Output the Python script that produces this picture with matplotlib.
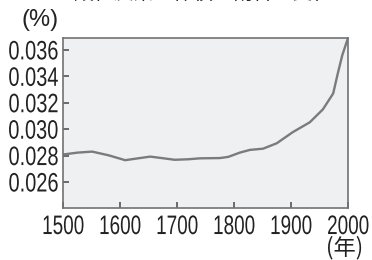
import matplotlib
matplotlib.use("Agg")
import matplotlib.pyplot as plt
from matplotlib.patheffects import AbstractPathEffect
from matplotlib.transforms import Affine2D

# CO2 share of the atmosphere by volume (%)
years = [1500, 1525, 1551, 1580, 1609, 1630, 1653, 1675, 1696, 1720, 1740, 1775,
         1790, 1810, 1828, 1851, 1875, 1903, 1933, 1956, 1974, 1982, 1990, 2000]
co2 = [0.02808, 0.02822, 0.02830, 0.02802, 0.02765, 0.02778, 0.02792, 0.02780, 0.02768,
       0.02772, 0.02779, 0.02781, 0.02790, 0.02822, 0.02843, 0.02852, 0.02893, 0.02977,
       0.03052, 0.03150, 0.03270, 0.03420, 0.03560, 0.03690]
yticks = [0.026, 0.028, 0.030, 0.032, 0.034, 0.036]
xticks = [1500, 1600, 1700, 1800, 1900, 2000]
title = "二酸化炭素の体積の割合の変化"


class Stretch(AbstractPathEffect):
    """Reshape glyphs (the reference uses a tall condensed face)."""

    def __init__(self, sx, sy, anchor="center"):
        super().__init__()
        self.sx, self.sy, self.anchor = sx, sy, anchor

    def draw_path(self, renderer, gc, tpath, affine, rgbFace=None):
        bb = tpath.get_extents(affine)
        x0 = {"left": bb.x0, "center": (bb.x0 + bb.x1) / 2, "right": bb.x1}[self.anchor]
        y0 = (bb.y0 + bb.y1) / 2
        t = Affine2D().translate(-x0, -y0).scale(self.sx, self.sy).translate(x0, y0)
        renderer.draw_path(gc, tpath, affine + t, rgbFace)


plt.rcParams["font.family"] = ["Liberation Sans", "Noto Sans CJK JP", "DejaVu Sans"]

fig = plt.figure(figsize=(3.72, 2.6), dpi=100)
ax = fig.add_axes([63 / 372, 52 / 260, 285 / 372, 170 / 260])
ax.set_facecolor("#eff0f2")

ax.plot(years, co2, color="#7b7b7b", lw=1.7, solid_capstyle="round")

ax.set_xlim(1500, 2000)
ax.set_ylim(0.02403, 0.0369)
ax.set_xticks(xticks)
ax.set_yticks(yticks)
ax.set_yticklabels([f"{v:.3f}" for v in yticks])
ax.tick_params(axis="both", direction="in", length=4, width=1.2, color="#555555",
               labelcolor="#222222")
ax.tick_params(axis="x", labelsize=14.5, pad=6.3)
ax.tick_params(axis="y", labelsize=15, pad=3)
for lbl in ax.get_xticklabels():
    lbl.set_path_effects([Stretch(0.94, 1.33, "center")])
for lbl in ax.get_yticklabels():
    lbl.set_path_effects([Stretch(0.96, 1.28, "right")])
for s in ax.spines.values():
    s.set_color("#727272")
    s.set_linewidth(1.2)

fig.text(40 / 372, 1 - 20 / 260, "(%)", ha="center", va="center", fontsize=17, color="#222222")
fig.text(345 / 372, 1 - 248 / 260, "(年)", ha="center", va="center", fontsize=16, color="#222222",
         family=["Noto Sans CJK JP"])
fig.text(194 / 372, 1 + 6 / 260, title, ha="center", va="center", fontsize=14.3, color="#222222",
         family=["Noto Sans CJK JP"])

fig.savefig("out.png", dpi=100)
